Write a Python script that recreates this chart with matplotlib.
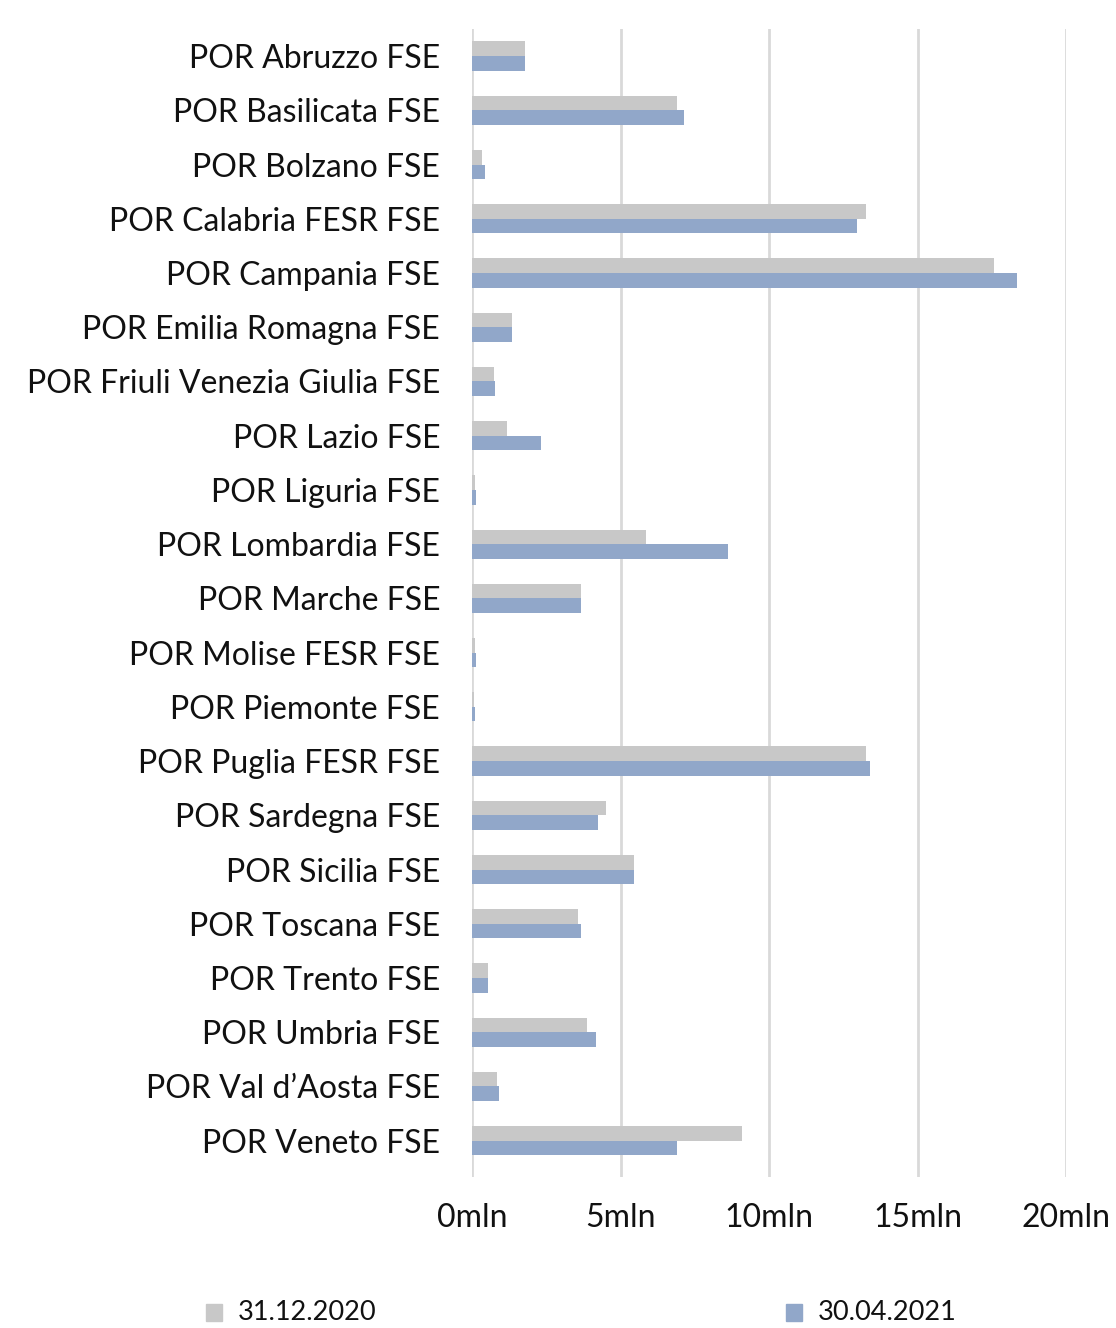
import matplotlib
matplotlib.use("Agg")
import matplotlib.pyplot as plt
import numpy as np
from matplotlib.patches import Rectangle

categories = [
    "POR Abruzzo FSE", "POR Basilicata FSE", "POR Bolzano FSE", "POR Calabria FESR FSE",
    "POR Campania FSE", "POR Emilia Romagna FSE", "POR Friuli Venezia Giulia FSE",
    "POR Lazio FSE", "POR Liguria FSE", "POR Lombardia FSE", "POR Marche FSE",
    "POR Molise FESR FSE", "POR Piemonte FSE", "POR Puglia FESR FSE", "POR Sardegna FSE",
    "POR Sicilia FSE", "POR Toscana FSE", "POR Trento FSE", "POR Umbria FSE",
    "POR Val d\u2019Aosta FSE", "POR Veneto FSE",
]
dec2020 = [1.78, 6.90, 0.34, 13.27, 17.58, 1.35, 0.74, 1.18, 0.10, 5.86, 3.67,
           0.10, 0.07, 13.27, 4.51, 5.45, 3.57, 0.54, 3.87, 0.84, 9.09]
apr2021 = [1.78, 7.14, 0.44, 12.96, 18.35, 1.35, 0.77, 2.32, 0.13, 8.62, 3.67,
           0.13, 0.10, 13.40, 4.24, 5.45, 3.67, 0.54, 4.18, 0.91, 6.90]
series_labels = ["31.12.2020", "30.04.2021"]
xticks = [0, 5, 10, 15, 20]
xtick_labels = ["0mln", "5mln", "10mln", "15mln", "20mln"]

plt.rcParams['font.family'] = ['Lato', 'DejaVu Sans']
W, H = 1116, 1328
fig = plt.figure(figsize=(W / 100, H / 100), dpi=100)
ax = fig.add_axes([472 / W, 1 - 1177 / H, (1066 - 472) / W, (1177 - 29) / H])

gray = "#C8C8C8"
blue = "#91A7C9"
txt = "#111111"
y = np.arange(len(categories))
bh = 0.27
ax.barh(y - bh / 2, dec2020, height=bh, color=gray, zorder=3)
ax.barh(y + bh / 2, apr2021, height=bh, color=blue, zorder=3)

ax.set_xlim(0, 20)
ax.set_ylim(20.67, -0.5)
ax.set_yticks(y)
ax.set_yticklabels(categories, fontsize=23, color=txt)
ax.set_xticks(xticks)
ax.set_xticklabels(xtick_labels, fontsize=23, color=txt)
ax.tick_params(axis="both", length=0)
ax.tick_params(axis="y", pad=23)
ax.tick_params(axis="x", pad=19)
for s in ax.spines.values():
    s.set_visible(False)
ax.grid(axis="x", color="#D9D9D9", linewidth=2, zorder=0)
ax.set_axisbelow(True)

# legend
legend_items = [(206, gray, series_labels[0]), (786, blue, series_labels[1])]
for x0, col, lab in legend_items:
    fig.patches.append(Rectangle((x0 / W, 1 - 1321 / H), 16 / W, 17 / H,
                                 transform=fig.transFigure, color=col))
    fig.text((x0 + 32) / W, 1 - 1312 / H, lab, fontsize=19.5, color=txt,
             ha="left", va="center")

fig.savefig("out.png", dpi=100)
